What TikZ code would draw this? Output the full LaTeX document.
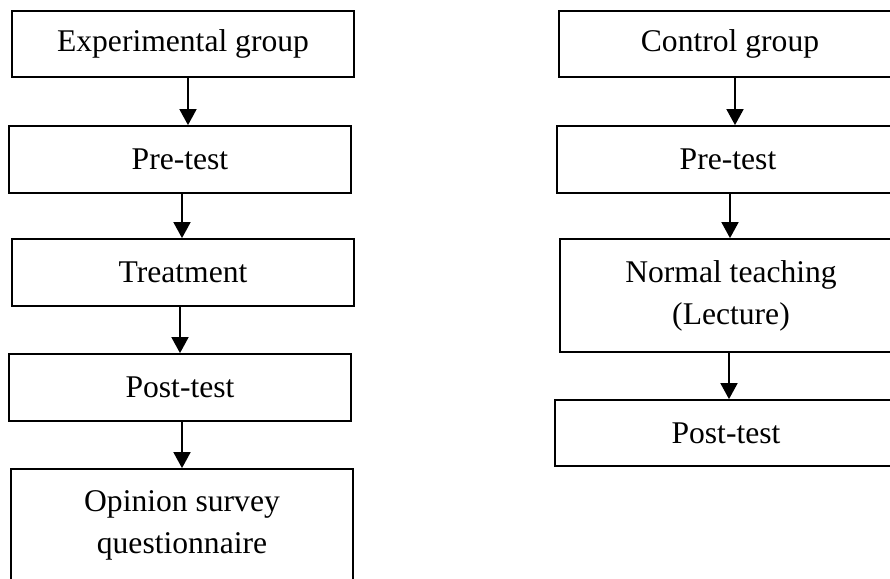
\documentclass[tikz,border=0pt]{standalone}
\usepackage{fontspec}
\setmainfont{Liberation Serif}
\usetikzlibrary{arrows.meta}
\begin{document}
\begin{tikzpicture}[x=1pt,y=-1pt,
  box/.style={draw=black,line width=1.8pt,minimum width=342pt,inner sep=0pt,align=center,
    font=\fontsize{31.6}{42}\selectfont},
  arr/.style={line width=1.8pt,-{Triangle[width=17pt,length=16pt]}}]
\useasboundingbox (0,0) rectangle (890,578);
\node[box,minimum height=66pt] (eg) at (183,44) {Experimental group};
\node[box,minimum height=67pt] (pre1) at (180,159.5) {Pre-test};
\node[box,minimum height=67pt] (tr) at (183,272.5) {Treatment};
\node[box,minimum height=67pt] (post1) at (180,387.5) {Post-test};
\node[box,minimum height=112pt] (op) at (182,525) {Opinion survey\\questionnaire};
\node[box,minimum height=66pt] (cg) at (730,44) {Control group};
\node[box,minimum height=67pt] (pre2) at (728,159.5) {Pre-test};
\node[box,minimum height=113pt] (nt) at (731,295.5) {Normal teaching\\(Lecture)};
\node[box,minimum height=66pt] (post2) at (726,433) {Post-test};
\draw[arr] ([xshift=5pt]eg.south) -- ([xshift=5pt]eg.south |- pre1.north);
\draw[arr] ([xshift=2pt]pre1.south) -- ([xshift=2pt]pre1.south |- tr.north);
\draw[arr] ([xshift=-3pt]tr.south) -- ([xshift=-3pt]tr.south |- post1.north);
\draw[arr] ([xshift=2pt]post1.south) -- ([xshift=2pt]post1.south |- op.north);
\draw[arr] ([xshift=5pt]cg.south) -- ([xshift=5pt]cg.south |- pre2.north);
\draw[arr] ([xshift=2pt]pre2.south) -- ([xshift=2pt]pre2.south |- nt.north);
\draw[arr] ([xshift=-2pt]nt.south) -- ([xshift=-2pt]nt.south |- post2.north);
\end{tikzpicture}
\end{document}
